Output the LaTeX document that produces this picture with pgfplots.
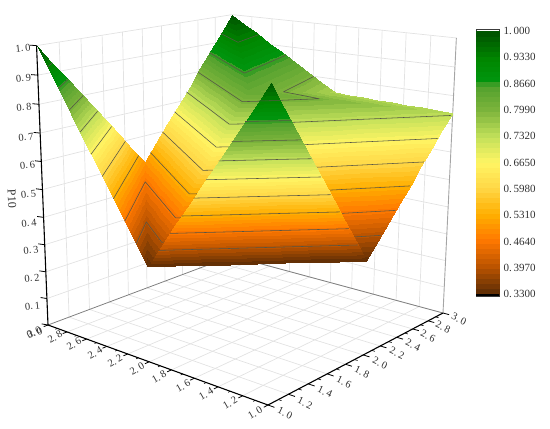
\documentclass[border=0pt]{standalone}
\usepackage{fontspec}
\setmainfont{Liberation Serif}
\usepackage{pgfplots}
\pgfplotsset{compat=1.18}
\usepgfplotslibrary{patchplots}
% perspective projection of the chart's box: data (x,y,P10) -> picture pixels
\pgfmathdeclarefunction{pw}{3}{\begingroup\pgfmathparse{1+0.17328*(#1-1)/2+0.19376*(#2-1)/2-0.07*#3}\pgfmathsmuggle\pgfmathresult\endgroup}
\pgfmathdeclarefunction{px}{3}{\begingroup\pgfmathparse{(268-211.68*(#1-1)/2+260.84*(#2-1)/2-16*#3)/pw(#1,#2,#3)}\pgfmathsmuggle\pgfmathresult\endgroup}
\pgfmathdeclarefunction{py}{3}{\begingroup\pgfmathparse{-(405-23.68*(#1-1)/2-31.35*(#2-1)/2-331*#3)/pw(#1,#2,#3)}\pgfmathsmuggle\pgfmathresult\endgroup}
\pgfplotsset{/pgfplots/table/proj/.style={row sep=\\,x expr={px(\thisrow{x},\thisrow{y},\thisrow{z})},y expr={py(\thisrow{x},\thisrow{y},\thisrow{z})}}}
% contour lines of the triangulated surface
\gdef\cc{}
\def\crossedge#1#2#3#4#5#6{%
  \pgfmathtruncatemacro\myc{((\L-#3)*(\L-#6)<0)}%
  \ifnum\myc=1
    \pgfmathsetmacro\myt{(\L-#3)/(#6-#3)}%
    \pgfmathsetmacro\qx{#1+\myt*(#4-#1)}%
    \pgfmathsetmacro\qy{#2+\myt*(#5-#2)}%
    \pgfmathsetmacro\sx{px(\qx,\qy,\L)}%
    \pgfmathsetmacro\sy{py(\qx,\qy,\L)}%
    \xdef\cc{\cc (\sx,\sy)}%
  \fi}
% refinement of a surface triangle, so that its colours follow the perspective
\gdef\pp{}
\def\emitp#1,#2,#3;{%
  \pgfmathsetmacro\sx{px(#1,#2,#3)}\pgfmathsetmacro\sy{py(#1,#2,#3)}%
  \xdef\pp{\pp (\sx,\sy) [#3]}}
\def\splitm#1,#2,#3;#4,#5,#6;#7{%
  \pgfmathsetmacro\ta{(#1+#4)/2}\pgfmathsetmacro\tb{(#2+#5)/2}\pgfmathsetmacro\tc{(#3+#6)/2}%
  \edef#7{\ta,\tb,\tc}}
\def\subtri#1#2#3#4{%
  \ifnum#1=0
    \emitp#2;\emitp#3;\emitp#4;%
  \else
    \begingroup
    \splitm#2;#3;\mab \splitm#3;#4;\mbc \splitm#4;#2;\mca
    \edef\dd{\the\numexpr#1-1\relax}%
    \edef\nxt{\noexpand\subtri{\dd}{#2}{\mab}{\mca}\noexpand\subtri{\dd}{\mab}{#3}{\mbc}\noexpand\subtri{\dd}{\mca}{\mbc}{#4}\noexpand\subtri{\dd}{\mab}{\mbc}{\mca}}%
    \nxt
    \endgroup
  \fi}
\def\tricont#1#2#3#4#5#6#7#8#9{%
  \subtri{3}{#1,#2,#3}{#4,#5,#6}{#7,#8,#9}%
  \foreach\L in {0.397,0.464,0.531,0.598,0.665,0.732,0.799,0.866,0.933}{%
    \crossedge{#1}{#2}{#3}{#4}{#5}{#6}%
    \crossedge{#4}{#5}{#6}{#7}{#8}{#9}%
    \crossedge{#7}{#8}{#9}{#1}{#2}{#3}%
    \xdef\cc{\cc (nan,nan)}%
  }}
% the surface: (x, y, P10) at the corners of its eight faces, far faces first
\tricont{3}{2}{.5}{3}{3}{1}{2}{2}{.83}
\tricont{3}{3}{1}{2}{3}{.75}{2}{2}{.83}
\tricont{3}{1}{1}{3}{2}{.5}{2}{1}{.33}
\tricont{3}{2}{.5}{2}{2}{.83}{2}{1}{.33}
\tricont{2}{2}{.83}{2}{3}{.75}{1}{3}{.74}
\tricont{2}{2}{.83}{1}{3}{.74}{1}{2}{.33}
\tricont{2}{2}{.83}{2}{1}{.33}{1}{2}{.33}
\xdef\ccb{\cc}\xdef\ppb{\pp}
\gdef\cc{}\gdef\pp{}
\tricont{2}{1}{.33}{1}{1}{.99}{1}{2}{.33}
\pgfplotsset{
 colormap={orgbase}{
  rgb255(33pt)=(100,48,5);
  rgb255(39.7pt)=(190,85,0);
  rgb255(46.4pt)=(255,120,0);
  rgb255(53.1pt)=(255,175,0);
  rgb255(59.8pt)=(255,215,70);
  rgb255(66.5pt)=(255,245,100);
  rgb255(73.2pt)=(195,225,90);
  rgb255(79.9pt)=(125,180,60);
  rgb255(86.6pt)=(80,160,45);
  rgb255(87.5pt)=(0,150,15);
  rgb255(93.3pt)=(0,135,0);
  rgb255(100pt)=(0,85,0)
 },
 colormap={orgsteps}{samples of colormap=(52 of orgbase)}
 }
\definecolor{gridc}{HTML}{E2E2E2}
\definecolor{txt}{HTML}{303030}
\pgfplotsset{gl/.style={gridc,line width=0.7pt},
 ticmaj/.style={black,line width=0.8pt},ticmin/.style={black,line width=0.6pt}}
\newcommand\lab[4]{\node[rotate=#3,text=txt,font=\fontsize{10.5}{12}\selectfont,inner sep=0pt] at (axis cs:#1,-#2) {#4};}
\begin{document}
\begin{tikzpicture}[x=1pt,y=1pt]
\path[use as bounding box] (0,0) rectangle (550,429);
\begin{axis}[at={(0pt,0pt)},anchor=south west,scale only axis,width=550pt,height=429pt,
 xmin=0,xmax=550,ymin=-429,ymax=0,hide axis,clip=false,colormap name=orgsteps,colormap access=piecewise constant,
 point meta min=0.33,point meta max=1]
% walls and floor grid
\pgfplotsinvokeforeach{1.2,1.4,1.6,1.8,2.0,2.2,2.4,2.6,2.8,3.0}{
 \addplot[gl] table[proj]{x y z\\ 3 #1 0\\ 3 #1 1\\};
 \addplot[gl] table[proj]{x y z\\ 3 #1 0\\ 1 #1 0\\};
}
\pgfplotsinvokeforeach{1.2,1.4,1.6,1.8,2.0,2.2,2.4,2.6,2.8}{
 \addplot[gl] table[proj]{x y z\\ #1 3 0\\ #1 3 1\\};
 \addplot[gl] table[proj]{x y z\\ #1 3 0\\ #1 1 0\\};
}
\pgfplotsinvokeforeach{0.1,0.2,0.3,0.4,0.5,0.6,0.7,0.8,0.9,1.0}{
 \addplot[gl] table[proj]{x y z\\ 3 1 #1\\ 3 3 #1\\ 1 3 #1\\};
}
% back floor edges and right edge
\addplot[color={rgb,255:red,128;green,128;blue,128},line width=0.8pt] table[proj]{x y z\\ 3 1 0\\ 3 3 0\\ 1 3 0\\};
\addplot[color={rgb,255:red,165;green,165;blue,165},line width=0.9pt] table[proj]{x y z\\ 1 3 0\\ 1 3 1\\};
% surface
\edef\temp{\noexpand\addplot[patch,patch type=triangle,shader=interp,point meta=explicit] coordinates {\ppb};}\temp
\edef\temp{\noexpand\addplot[color={rgb,255:red,85;green,85;blue,70},line width=0.55pt,unbounded coords=jump] coordinates {\ccb};}\temp
\edef\temp{\noexpand\addplot[patch,patch type=triangle,shader=interp,point meta=explicit] coordinates {\pp};}\temp
\edef\temp{\noexpand\addplot[color={rgb,255:red,85;green,85;blue,70},line width=0.55pt,unbounded coords=jump] coordinates {\cc};}\temp
% front axes
\addplot[black,line width=1.1pt] table[proj]{x y z\\ 3 1 1\\ 3 1 0\\ 1 1 0\\ 1 3 0\\};
\pgfplotsinvokeforeach{1.0,1.2,1.4,1.6,1.8,2.0,2.2,2.4,2.6,2.8,3.0}{
 \addplot[ticmaj] table[proj]{x y z\\ #1 1 0\\ #1 0.96 0\\};
 \addplot[ticmaj] table[proj]{x y z\\ 1 #1 0\\ 0.95 #1 0\\};
}
\pgfplotsinvokeforeach{1.1,1.3,1.5,1.7,1.9,2.1,2.3,2.5,2.7,2.9}{
 \addplot[ticmin] table[proj]{x y z\\ #1 1 0\\ #1 0.98 0\\};
 \addplot[ticmin] table[proj]{x y z\\ 1 #1 0\\ 0.975 #1 0\\};
}
\pgfplotsinvokeforeach{0,0.1,0.2,0.3,0.4,0.5,0.6,0.7,0.8,0.9,1.0}{
 \addplot[ticmaj] table[proj]{x y z\\ 3 1 #1\\ 3.05 0.985 #1\\};
}
% tick labels
\lab{23}{48}{6}{1.\,0}\lab{23.5}{78}{6}{0.\,9}\lab{24}{107}{6}{0.\,8}\lab{26}{137}{6}{0.\,7}
\lab{27.5}{165}{6}{0.\,6}\lab{28.5}{194}{6}{0.\,5}\lab{29}{223}{6}{0.\,4}\lab{31}{250}{6}{0.\,3}
\lab{32}{278}{6}{0.\,2}\lab{32.5}{306}{6}{0.\,1}\lab{34}{332}{25}{0.\,0}\lab{35}{333}{15}{3.\,0}
\lab{55}{337}{30}{2.\,8}\lab{74}{344}{30}{2.\,6}\lab{95}{353}{30}{2.\,4}\lab{115}{361}{30}{2.\,2}
\lab{137}{369}{30}{2.\,0}\lab{159}{377}{30}{1.\,8}\lab{183}{386}{30}{1.\,6}\lab{206}{394}{30}{1.\,4}
\lab{230}{403}{30}{1.\,2}\lab{255}{413}{30}{1.\,0}
\lab{285}{413}{-25}{1.\,0}\lab{305}{403}{-25}{1.\,2}\lab{325}{392}{-25}{1.\,4}\lab{344}{382}{-25}{1.\,6}
\lab{362}{372}{-25}{1.\,8}\lab{380}{363}{-25}{2.\,0}\lab{397}{353}{-25}{2.\,2}\lab{413}{345}{-25}{2.\,4}
\lab{428}{336}{-25}{2.\,6}\lab{443}{327}{-25}{2.\,8}\lab{459}{319}{-25}{3.\,0}
\node[rotate=-87,text=txt,font=\fontsize{12}{14}\selectfont,inner sep=0pt] at (axis cs:12,-199) {P10};
\end{axis}
% colour scale
\begin{axis}[at={(476pt,133pt)},anchor=south west,scale only axis,width=23pt,height=267pt,
 xmin=0,xmax=1,ymin=0.325,ymax=1.005,xtick=\empty,ytick pos=right,
 ytick={0.33,0.397,0.464,0.531,0.598,0.665,0.732,0.799,0.866,0.933,1},
 yticklabels={0.\,3300,0.\,3970,0.\,4640,0.\,5310,0.\,5980,0.\,6650,0.\,7320,0.\,7990,0.\,8660,0.\,9330,1.\,000},
 yticklabel style={text=txt,font=\fontsize{11}{13}\selectfont,xshift=1pt},
 major tick length=6pt,tick style={color={rgb,255:red,70;green,70;blue,70},line width=0.7pt},
 axis line style={color={rgb,255:red,60;green,60;blue,60},line width=0.8pt},
 colormap name=orgsteps,colormap access=piecewise constant,point meta min=0.33,point meta max=1]
\addplot[patch,patch type=rectangle,shader=interp,point meta=y] coordinates {(0,0.33)(1,0.33)(1,1)(0,1)};
\addplot[fill=black,draw=none] coordinates {(0,0.325)(1,0.325)(1,0.33)(0,0.33)} \closedcycle;
\end{axis}
\end{tikzpicture}
\end{document}
